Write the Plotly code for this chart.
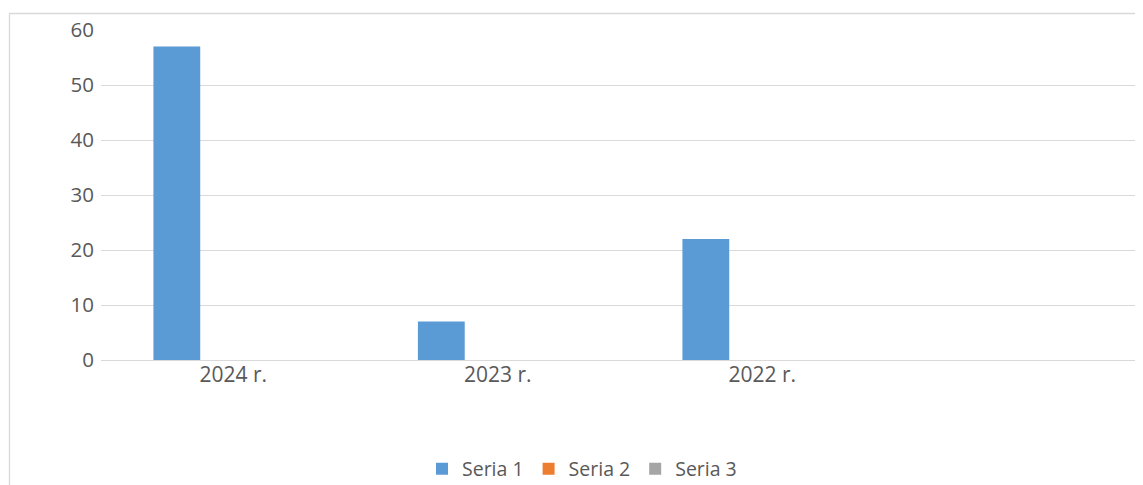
import plotly.graph_objects as go

categories = ["2024 r.", "2023 r.", "2022 r."]
seria1 = [57, 7, 22]
seria2 = [0, 0, 0]
seria3 = [0, 0, 0]
y_ticks = [0, 10, 20, 30, 40, 50, 60]

# page body has an 8px margin; work in screenshot pixels and subtract it
OFF = 8
W, H = 1143, 485
ML, MR, MT = 101 - OFF, 0, 30 - OFF
MB = H - (360 - OFF)
PW = W - ML - MR
PH = H - MT - MB

def px_x(px):
    return (px - OFF - ML) / PW

def px_y(py):
    return (H - MB - (py - OFF)) / PH

font = "Open Sans, Liberation Sans, sans-serif"
fig = go.Figure()
for name, vals, col in [("Seria 1", seria1, "#5b9bd5"),
                        ("Seria 2", seria2, "#ed7d31"),
                        ("Seria 3", seria3, "#a5a5a5")]:
    fig.add_trace(go.Bar(x=categories, y=vals, name=name, marker_color=col,
                         marker_line_width=0))

fig.update_layout(
    width=W, height=H,
    margin=dict(l=ML, r=MR, t=MT, b=MB),
    paper_bgcolor="white", plot_bgcolor="white",
    barmode="group", bargap=0.36, bargroupgap=0.17,
    font=dict(family=font, color="#595959", size=19),
    xaxis=dict(range=[-0.5, -0.5 + PW / 264.5], showgrid=False, showline=False,
               ticks="", tickfont=dict(size=21, color="#595959"), zeroline=False),
    yaxis=dict(range=[0, 60], tickvals=y_ticks, showgrid=True, gridcolor="#d9d9d9",
               gridwidth=1.3, zeroline=True, zerolinecolor="#d9d9d9", zerolinewidth=1.3,
               showline=False, ticks="", ticklabelstandoff=6,
               tickfont=dict(size=20.5, color="#595959")),
    legend=dict(orientation="h", x=px_x(582), xanchor="center", y=px_y(469),
                yanchor="middle", font=dict(size=19.5, color="#595959"),
                itemwidth=30, traceorder="normal"),
    showlegend=True,
)
fig.add_shape(type="rect", xref="paper", yref="paper",
              x0=px_x(9.5), x1=px_x(1250), y0=px_y(700), y1=px_y(13.5),
              line=dict(color="#d9d9d9", width=1.3), fillcolor="rgba(0,0,0,0)",
              layer="below")
fig.write_html("out.html", config={"displayModeBar": False})
